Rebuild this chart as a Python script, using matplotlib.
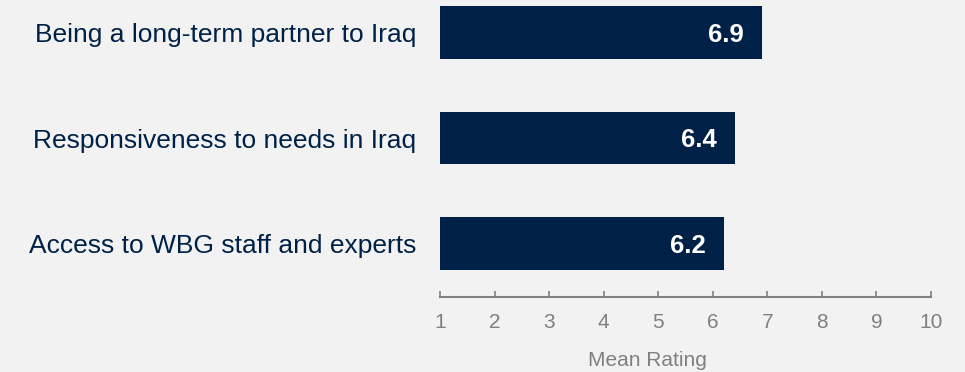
import matplotlib.pyplot as plt

# data
categories = ['Being a long-term partner to Iraq',
              'Responsiveness to needs in Iraq',
              'Access to WBG staff and experts']
ratings = [6.9, 6.4, 6.2]
xticks = [1, 2, 3, 4, 5, 6, 7, 8, 9, 10]

plt.rcParams['font.family'] = ['Liberation Sans', 'DejaVu Sans']

bg = '#f2f2f2'
navy = '#002147'
grey = '#808080'

fig = plt.figure(figsize=(9.65, 3.72), dpi=100, facecolor=bg)
ax = fig.add_axes([440 / 965, 1 - 296.7 / 372, 491 / 965, 296.7 / 372])
ax.set_facecolor(bg)

ypos = list(range(len(categories)))
ax.barh(ypos, [r - 1 for r in ratings], left=1, height=0.5, color=navy)

for y, r in zip(ypos, ratings):
    ax.text(r - 0.33, y + 0.02, f'{r:.1f}', ha='right', va='center',
            color='white', fontsize=18.5, fontweight='bold')

ax.set_xlim(1, 10)
ax.set_ylim(2.504, -0.308)
ax.set_xticks(xticks)
ax.set_yticks(ypos)
ax.set_yticklabels(categories, fontsize=19, color=navy)
ax.tick_params(axis='y', length=0, pad=17)
ax.tick_params(axis='x', direction='in', length=4.5, width=1.2, color=grey,
               labelcolor=grey, labelsize=15, pad=12)

for s in ['top', 'right', 'left']:
    ax.spines[s].set_visible(False)
ax.spines['bottom'].set_color(grey)
ax.spines['bottom'].set_linewidth(1.5)

ax.set_xlabel('Mean Rating', fontsize=15, color=grey)
ax.xaxis.set_label_coords((647 - 440) / 491, -(360 - 296.7) / 296.7)
ax.xaxis.label.set_va('center')

fig.savefig('out.png', dpi=100, facecolor=bg)
